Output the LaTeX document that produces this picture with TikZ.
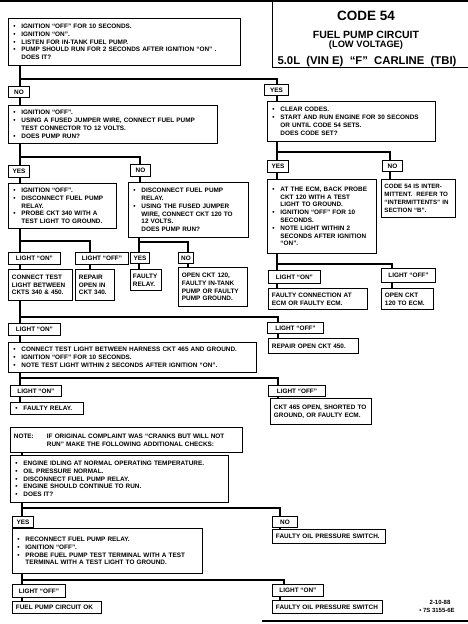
\documentclass[tikz,border=0pt]{standalone}
\usepackage{fontspec}
\setmainfont{Liberation Sans}
\newcommand\myb{\makebox[9.5pt][l]{\hspace{1.5pt}•}}
\newcommand\myi{\hspace*{9.5pt}}
\begin{document}
\begin{tikzpicture}[x=1pt,y=-1pt,
  box/.style={draw, line width=0.9pt, fill=white, anchor=north west, inner xsep=3.5pt, inner ysep=1pt, align=left, font=\fontsize{6.4}{7.8}\selectfont\bfseries},
  lbl/.style={draw, line width=0.9pt, fill=white, anchor=north west, inner sep=1pt, align=center, font=\fontsize{6.4}{7.8}\selectfont\bfseries},
  conn/.style={line width=1.7pt},
  ttl/.style={anchor=base, inner sep=0pt, font=\bfseries}
]
\useasboundingbox (0,0) rectangle (468,624);

% ---- title ----
\draw[line width=1.6pt] (0,1) -- (468,1);
\draw[line width=0.9pt] (272,1) -- (272,67) -- (468,67);
\node[ttl, font=\fontsize{13.5}{14}\selectfont\bfseries] (t1) at (366,20) {CODE 54};
\node[ttl, font=\fontsize{10.5}{11}\selectfont\bfseries] (t2) at (366,38) {FUEL PUMP CIRCUIT};
\node[ttl, font=\fontsize{9.3}{10}\selectfont\bfseries] (t3) at (366,47.5) {(LOW VOLTAGE)};
\node[ttl, font=\fontsize{11.3}{12}\selectfont\bfseries] (t4) at (367,64) {5.0L\ \ (VIN E)\ \ “F”\ \ CARLINE\ \ (TBI)};

% ---- left column ----
\node[box, text width=225pt, minimum height=47pt] (b1) at (8,18) {\myb IGNITION “OFF” FOR 10 SECONDS.\\ \myb IGNITION “ON”.\\ \myb LISTEN FOR IN-TANK FUEL PUMP.\\ \myb PUMP SHOULD RUN FOR 2 SECONDS AFTER IGNITION “ON” .\\ \myi DOES IT?};
\node[lbl, minimum width=21pt, minimum height=11pt] (lno1) at (8,86) {NO};
\node[lbl, minimum width=24pt, minimum height=11pt] (lyes1) at (264,84) {YES};

\node[box, text width=202pt, minimum height=38pt] (b2) at (8,105) {\myb IGNITION “OFF”.\\ \myb USING A FUSED JUMPER WIRE, CONNECT FUEL PUMP\\ \myi TEST CONNECTOR TO 12 VOLTS.\\ \myb DOES PUMP RUN?};
\node[lbl, minimum width=21pt, minimum height=12pt] (lyes2) at (8,165) {YES};
\node[lbl, minimum width=20pt, minimum height=12pt] (lno2) at (130,164) {NO};

\node[box, text width=101pt, minimum height=45pt] (b3) at (8,183) {\myb IGNITION “OFF”.\\ \myb DISCONNECT FUEL PUMP\\ \myi RELAY.\\ \myb PROBE CKT 340 WITH A\\ \myi TEST LIGHT TO GROUND.};
\node[box, text width=113pt, minimum height=55pt] (b4) at (128,182) {\myb DISCONNECT FUEL PUMP\\ \myi RELAY.\\ \myb USING THE FUSED JUMPER\\ \myi WIRE, CONNECT CKT 120 TO\\ \myi 12 VOLTS.\\ \myi DOES PUMP RUN?};

\node[lbl, minimum width=52pt, minimum height=12pt] (lon3) at (8,252) {LIGHT “ON”};
\node[lbl, minimum width=53pt, minimum height=12pt] (loff3) at (75,252) {LIGHT “OFF”};
\node[box, text width=57pt, minimum height=31pt] (b5) at (8,269) {CONNECT TEST\\ LIGHT BETWEEN\\ CKTS 340 \& 450.};
\node[box, text width=32pt, minimum height=31pt] (b6) at (75,269) {REPAIR\\ OPEN IN\\ CKT 340.};

\node[lbl, minimum width=19pt, minimum height=11pt] (lyes4) at (130,252) {YES};
\node[lbl, minimum width=15pt, minimum height=11pt] (lno4) at (178,252) {NO};
\node[box, inner xsep=2.5pt, text width=26pt, minimum height=21pt] (b7) at (130,269) {FAULTY\\ RELAY.};
\node[box, text width=62pt, minimum height=39pt] (b8) at (178,267) {OPEN CKT 120,\\ FAULTY IN-TANK\\ PUMP OR FAULTY\\ PUMP GROUND.};

\node[lbl, minimum width=52pt, minimum height=12pt] (lon5) at (8,323) {LIGHT “ON”};
\node[lbl, minimum width=56pt, minimum height=11pt] (loff5) at (267,322) {LIGHT “OFF”};
\node[box, text width=241pt, minimum height=30pt] (b9) at (8,342) {\myb CONNECT TEST LIGHT BETWEEN HARNESS CKT 465 AND GROUND.\\ \myb IGNITION “OFF” FOR 10 SECONDS.\\ \myb NOTE TEST LIGHT WITHIN 2 SECONDS AFTER IGNITION “ON”.};
\node[box, text width=83pt, minimum height=15pt] (b10) at (268,338) {REPAIR OPEN CKT 450.};

\node[lbl, minimum width=51pt, minimum height=11pt] (lon6) at (10,385) {LIGHT “ON”};
\node[lbl, minimum width=57pt, minimum height=11pt] (loff6) at (268,385) {LIGHT “OFF”};
\node[box, text width=66pt, minimum height=12pt] (b11) at (10,402) {\myb FAULTY RELAY.};
\node[box, text width=94pt, minimum height=26pt] (b12) at (270,398) {CKT 465 OPEN, SHORTED TO\\ GROUND, OR FAULTY ECM.};

\node[box, text width=225pt, minimum height=25pt] (b13) at (10,427) {\makebox[33pt][l]{NOTE:}IF ORIGINAL COMPLAINT WAS “CRANKS BUT WILL NOT\\ \hspace*{33pt}RUN” MAKE THE FOLLOWING ADDITIONAL CHECKS:};
\node[box, text width=211pt, minimum height=47pt] (b14) at (10,455) {\myb ENGINE IDLING AT NORMAL OPERATING TEMPERATURE.\\ \myb OIL PRESSURE NORMAL.\\ \myb DISCONNECT FUEL PUMP RELAY.\\ \myb ENGINE SHOULD CONTINUE TO RUN.\\ \myb DOES IT?};

\node[lbl, minimum width=21pt, minimum height=11pt] (lyes7) at (12,516) {YES};
\node[lbl, minimum width=25pt, minimum height=11pt] (lno7) at (272,516) {NO};
\node[box, text width=183pt, minimum height=45pt] (b15) at (12,528) {\myb RECONNECT FUEL PUMP RELAY.\\ \myb IGNITION “OFF”.\\ \myb PROBE FUEL PUMP TEST TERMINAL WITH A TEST\\ \myi TERMINAL WITH A TEST LIGHT TO GROUND.};
\node[box, text width=106pt, minimum height=14pt] (b16) at (272,529) {FAULTY OIL PRESSURE SWITCH.};

\node[lbl, minimum width=53pt, minimum height=13pt] (loff8) at (12,584) {LIGHT “OFF”};
\node[lbl, minimum width=51pt, minimum height=12pt] (lon8) at (272,584) {LIGHT “ON”};
\node[box, text width=82pt, minimum height=12pt] (b17) at (12,601) {FUEL PUMP CIRCUIT OK};
\node[box, text width=103pt, minimum height=13pt] (b18) at (272,600) {FAULTY OIL PRESSURE SWITCH};

% ---- right column ----
\node[box, text width=161pt, minimum height=40pt] (bR1) at (267,101) {\myb CLEAR CODES.\\ \myb START AND RUN ENGINE FOR 30 SECONDS\\ \myi OR UNTIL CODE 54 SETS.\\ \myi DOES CODE SET?};
\node[lbl, minimum width=21pt, minimum height=12pt] (lyesR2) at (267,160) {YES};
\node[lbl, minimum width=20pt, minimum height=11pt] (lnoR2) at (382,160) {NO};
\node[box, text width=102pt, minimum height=74pt] (bR2) at (267,179) {\myb AT THE ECM, BACK PROBE\\ \myi CKT 120 WITH A TEST\\ \myi LIGHT TO GROUND.\\ \myb IGNITION “OFF” FOR 10\\ \myi SECONDS.\\ \myb NOTE LIGHT WITHIN 2\\ \myi SECONDS AFTER IGNITION\\ \myi “ON”.};
\node[box, inner xsep=3pt, text width=68pt, minimum height=38pt, font=\fontsize{6.2}{7.8}\selectfont\bfseries] (bR3) at (381,179) {\mbox{CODE 54 IS INTER-}\\ \mbox{MITTENT.\ \ REFER TO}\\ \mbox{“INTERMITTENTS” IN}\\ \mbox{SECTION “B”.}};
\node[lbl, minimum width=52pt, minimum height=13pt] (lonR) at (268,270) {LIGHT “ON”};
\node[lbl, minimum width=54pt, minimum height=14pt] (loffR) at (381,268) {LIGHT “OFF”};
\node[box, text width=92pt, minimum height=21pt] (bR4) at (268,288) {FAULTY CONNECTION AT\\ ECM OR FAULTY ECM.};
\node[box, text width=45pt, minimum height=21pt] (bR5) at (381,288) {OPEN CKT\\ 120 TO ECM.};

% date
\node[anchor=base, inner sep=0pt, font=\fontsize{6}{7}\selectfont\bfseries] (d1) at (440,604) {2-10-88};
\node[anchor=base, inner sep=0pt, font=\fontsize{6}{7}\selectfont\bfseries] (d2) at (437,612.5) {• 7S 3155-6E};
\draw[line width=1.2pt] (262,621) -- (468,621);

% ---- connectors ----
\coordinate (j1) at (20,79);   \coordinate (k1) at (277,79);
\draw[conn] (b1.south -| j1) -- (lno1.north -| j1);
\draw[conn] (j1) -- (k1) -- (lyes1.north -| k1);
\draw[conn] (lno1.south -| j1) -- (b2.north -| j1);
\draw[conn] (lyes1.south -| k1) -- (bR1.north -| k1);

\coordinate (j2) at (20,157);  \coordinate (k2) at (140,157);
\draw[conn] (b2.south -| j2) -- (lyes2.north -| j2);
\draw[conn] (j2) -- (k2) -- (lno2.north -| k2);
\draw[conn] (lyes2.south -| j2) -- (b3.north -| j2);
\draw[conn] (lno2.south -| k2) -- (b4.north -| k2);

\coordinate (j3) at (20,241);  \coordinate (k3) at (90,241);
\draw[conn] (b3.south -| j3) -- (lon3.north -| j3);
\draw[conn] (j3) -- (k3) -- (loff3.north -| k3);
\draw[conn] (lon3.south -| j3) -- (b5.north -| j3);
\draw[conn] (loff3.south -| k3) -- (b6.north -| k3);

\coordinate (j4) at (139,242); \coordinate (k4) at (188,242);
\draw[conn] (b4.south -| j4) -- (lyes4.north -| j4);
\draw[conn] (j4) -- (k4) -- (lno4.north -| k4);
\draw[conn] (lyes4.south -| j4) -- (b7.north -| j4);
\draw[conn] (lno4.south -| k4) -- (b8.north -| k4);

\coordinate (j5) at (20,317);  \coordinate (k5) at (278,317);
\draw[conn] (b5.south -| j5) -- (lon5.north -| j5);
\draw[conn] (j5) -- (k5) -- (loff5.north -| k5);
\draw[conn] (lon5.south -| j5) -- (b9.north -| j5);
\draw[conn] (loff5.south -| k5) -- (b10.north -| k5);

\coordinate (j6) at (20,378);  \coordinate (k6) at (278,378);
\draw[conn] (b9.south -| j6) -- (lon6.north -| j6);
\draw[conn] (j6) -- (k6) -- (loff6.north -| k6);
\draw[conn] (lon6.south -| j6) -- (b11.north -| j6);
\draw[conn] (loff6.south -| k6) -- (b12.north -| k6);

\coordinate (j7) at (22,508);  \coordinate (k7) at (280,508);
\draw[conn] (b13.south -| j7) -- (b14.north -| j7);
\draw[conn] (b14.south -| j7) -- (lyes7.north -| j7);
\draw[conn] (j7) -- (k7) -- (lno7.north -| k7);
\draw[conn] (lyes7.south -| j7) -- (b15.north -| j7);
\draw[conn] (lno7.south -| k7) -- (b16.north -| k7);

\coordinate (j8) at (22,580);  \coordinate (k8) at (284,580);
\draw[conn] (b15.south -| j8) -- (loff8.north -| j8);
\draw[conn] (j8) -- (k8) -- (lon8.north -| k8);
\draw[conn] (loff8.south -| j8) -- (b17.north -| j8);
\draw[conn] (lon8.south -| k7) -- (b18.north -| k7);

\coordinate (jR1) at (277,152); \coordinate (kR1) at (390,152);
\draw[conn] (bR1.south -| jR1) -- (lyesR2.north -| jR1);
\draw[conn] (jR1) -- (kR1) -- (lnoR2.north -| kR1);
\draw[conn] (lyesR2.south -| jR1) -- (bR2.north -| jR1);
\draw[conn] (lnoR2.south -| kR1) -- (bR3.north -| kR1);

\coordinate (jR2) at (277,264); \coordinate (kR2) at (392,264);
\draw[conn] (bR2.south -| jR2) -- (lonR.north -| jR2);
\draw[conn] (jR2) -- (kR2) -- (loffR.north -| kR2);
\draw[conn] (lonR.south -| jR2) -- (bR4.north -| jR2);
\draw[conn] (loffR.south -| kR2) -- (bR5.north -| kR2);
\end{tikzpicture}
\end{document}
